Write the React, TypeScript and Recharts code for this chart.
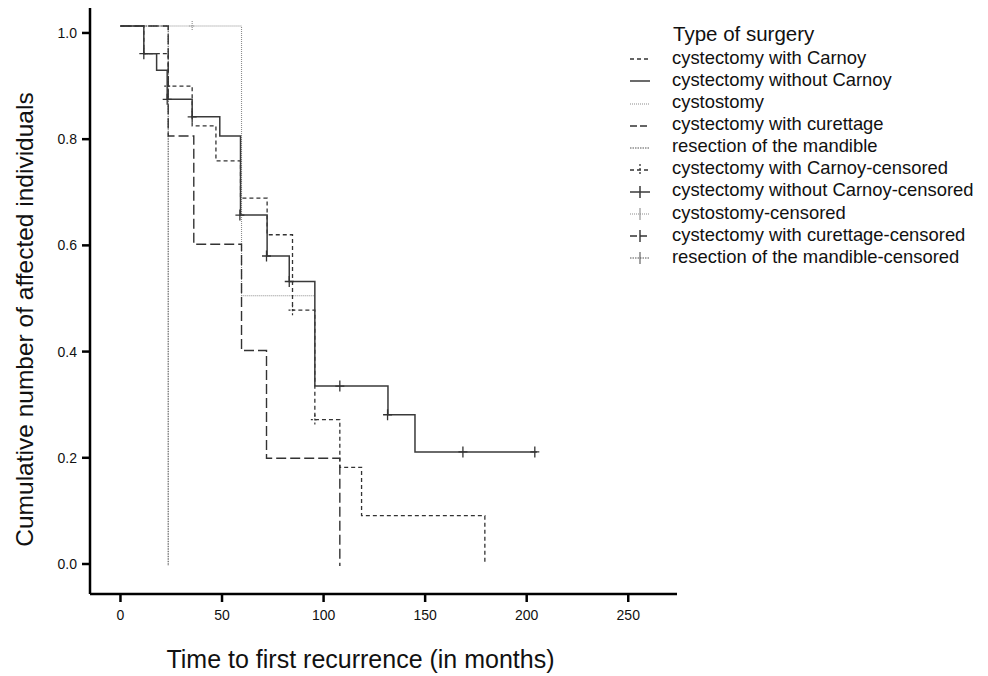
import React from 'react';
import { ComposedChart, Line, Scatter, XAxis, YAxis, Legend } from 'recharts';

// ---------- data ----------
const monthTicks = [0, 50, 100, 150, 200, 250];
const probTicks = [0, 0.2, 0.4, 0.6, 0.8, 1.0];

const legendTitle = 'Type of surgery';
const legendLabels = [
  'cystectomy with Carnoy',
  'cystectomy without Carnoy',
  'cystostomy',
  'cystectomy with curettage',
  'resection of the mandible',
  'cystectomy with Carnoy-censored',
  'cystectomy without Carnoy-censored',
  'cystostomy-censored',
  'cystectomy with curettage-censored',
  'resection of the mandible-censored',
];

// cystectomy with Carnoy
const carnoyMonths = [0, 11.5, 23.5, 35.3, 47.0, 59.1, 72.2, 84.7, 95.7, 108.0, 118.7, 179.4];
const carnoyValues = [1.013, 0.961, 0.9, 0.825, 0.759, 0.689, 0.62, 0.478, 0.272, 0.182, 0.091, 0.0];
const carnoyCensorMonths = [23.5, 84.7, 95.7];
const carnoyCensorValues = [0.9, 0.478, 0.272];

// cystectomy without Carnoy
const withoutMonths = [0, 11.5, 17.8, 23.0, 35.3, 48.9, 59.1, 72.2, 83.1, 95.7, 131.7, 145.0, 205.0];
const withoutValues = [1.013, 0.961, 0.93, 0.875, 0.842, 0.806, 0.657, 0.58, 0.532, 0.335, 0.281, 0.211, 0.211];
const withoutCensorMonths = [11.5, 23.0, 35.3, 58.8, 71.9, 83.1, 108.0, 131.5, 168.6, 204.0];
const withoutCensorValues = [0.961, 0.875, 0.842, 0.657, 0.58, 0.532, 0.335, 0.281, 0.211, 0.211];

// cystostomy
const cystostomyMonths = [0, 59.6, 95.7];
const cystostomyValues = [1.013, 0.505, 0.505];
const cystostomyCensorMonths = [35.3];
const cystostomyCensorValues = [1.013];

// cystectomy with curettage
const curettageMonths = [0, 23.5, 36.1, 59.6, 71.9, 108.0];
const curettageValues = [1.013, 0.806, 0.602, 0.402, 0.199, -0.004];

// resection of the mandible
const resectionMonths = [0, 23.5];
const resectionValues = [1.013, -0.004];

const zip = (ts: number[], vs: number[]) => ts.map((t, i) => ({ t, v: vs[i] }));

const carnoyData = zip(carnoyMonths, carnoyValues);
const carnoyCensor = zip(carnoyCensorMonths, carnoyCensorValues);
const withoutData = zip(withoutMonths, withoutValues);
const withoutCensor = zip(withoutCensorMonths, withoutCensorValues);
const cystostomyData = zip(cystostomyMonths, cystostomyValues);
const cystostomyCensor = zip(cystostomyCensorMonths, cystostomyCensorValues);
const curettageData = zip(curettageMonths, curettageValues);
const resectionData = zip(resectionMonths, resectionValues);

// ---------- styles ----------
const FONT = '"Liberation Sans", Arial, Helvetica, sans-serif';
const S = {
  carnoy: { stroke: '#333', dash: '4 3', width: 1.3 },
  without: { stroke: '#3a3a3a', dash: undefined as string | undefined, width: 1.5 },
  cystostomy: { stroke: '#8c8c8c', dash: '1 1', width: 1.1 },
  curettage: { stroke: '#333', dash: '10 4', width: 1.4 },
  resection: { stroke: '#555', dash: '1.5 1', width: 1.1 },
};

const makeCross = (stroke: string, width: number, hx: number, hy: number, dash?: string) => (props: any) => {
  const { cx, cy } = props;
  if (cx == null || cy == null) return <g />;
  return (
    <path
      d={`M${cx - hx},${cy}H${cx + hx}M${cx},${cy - hy}V${cy + hy}`}
      stroke={stroke}
      strokeWidth={width}
      strokeDasharray={dash}
      fill="none"
    />
  );
};

const legendSymbols = [
  { ...S.carnoy, cross: false },
  { ...S.without, cross: false },
  { ...S.cystostomy, cross: false },
  { ...S.curettage, dash: '7 3', cross: false },
  { ...S.resection, cross: false },
  { ...S.carnoy, cross: true },
  { ...S.without, cross: true },
  { ...S.cystostomy, cross: true },
  { ...S.curettage, dash: '7 3', cross: true },
  { ...S.resection, cross: true },
];

const LegendBox = () => {
  const rowY = (i: number) => 59.3 + 22.1 * i;
  return (
    <div style={{ position: 'absolute', left: 0, top: 0, width: 988, height: 676, fontFamily: FONT, color: '#111' }}>
      <div style={{ position: 'absolute', left: 673, top: 35 - 13, fontSize: 20.5, lineHeight: '24px', whiteSpace: 'nowrap' }}>
        {legendTitle}
      </div>
      {legendLabels.map((label, i) => {
        const sym = legendSymbols[i];
        const cy = rowY(i);
        return (
          <React.Fragment key={label}>
            <svg style={{ position: 'absolute', left: 626, top: cy - 9 }} width={28} height={18}>
              <line x1={4} y1={9} x2={24} y2={9} stroke={sym.stroke} strokeWidth={sym.width} strokeDasharray={sym.dash} />
              {sym.cross && <line x1={14} y1={3} x2={14} y2={15} stroke={sym.stroke} strokeWidth={sym.width} strokeDasharray={i === 5 ? '2 2' : undefined} />}
            </svg>
            <div style={{ position: 'absolute', left: 672, top: cy - 12.5, fontSize: 18.4, lineHeight: '22px', whiteSpace: 'nowrap' }}>
              {label}
            </div>
          </React.Fragment>
        );
      })}
    </div>
  );
};

const tickStyle = { fontSize: 14, fontFamily: FONT, fill: '#111' };

export default function App() {
  return (
    <div style={{ position: 'absolute', left: 0, top: 0, width: 988, height: 676, background: '#fff' }}>
      <ComposedChart
        width={988}
        height={676}
        margin={{ top: 8, right: 311, bottom: 52, left: 30 }}
        style={{ fontFamily: FONT }}
      >
        <XAxis
          type="number"
          dataKey="t"
          domain={[-15, 274]}
          ticks={monthTicks}
          allowDataOverflow
          height={30}
          tickSize={8}
          tickMargin={8}
          axisLine={{ stroke: '#000', strokeWidth: 2.5 }}
          tickLine={{ stroke: '#000', strokeWidth: 2.5 }}
          tick={tickStyle}
        />
        <YAxis
          type="number"
          dataKey="v"
          domain={[-0.0565, 1.047]}
          ticks={probTicks}
          allowDataOverflow
          width={60}
          tickSize={8}
          tickMargin={5}
          tickFormatter={(v: number) => v.toFixed(1)}
          axisLine={{ stroke: '#000', strokeWidth: 2.5 }}
          tickLine={{ stroke: '#000', strokeWidth: 2.5 }}
          tick={tickStyle}
        />
        <Line data={cystostomyData} dataKey="v" type="stepAfter" stroke={S.cystostomy.stroke} strokeWidth={S.cystostomy.width} strokeDasharray={S.cystostomy.dash} dot={false} activeDot={false} isAnimationActive={false} />
        <Line data={resectionData} dataKey="v" type="stepAfter" stroke={S.resection.stroke} strokeWidth={S.resection.width} strokeDasharray={S.resection.dash} dot={false} activeDot={false} isAnimationActive={false} />
        <Line data={curettageData} dataKey="v" type="stepAfter" stroke={S.curettage.stroke} strokeWidth={S.curettage.width} strokeDasharray={S.curettage.dash} dot={false} activeDot={false} isAnimationActive={false} />
        <Line data={carnoyData} dataKey="v" type="stepAfter" stroke={S.carnoy.stroke} strokeWidth={S.carnoy.width} strokeDasharray={S.carnoy.dash} dot={false} activeDot={false} isAnimationActive={false} />
        <Line data={withoutData} dataKey="v" type="stepAfter" stroke={S.without.stroke} strokeWidth={S.without.width} dot={false} activeDot={false} isAnimationActive={false} />
        <Scatter data={carnoyCensor} dataKey="v" isAnimationActive={false} shape={makeCross('#333', 1.2, 4, 5, '2 2')} />
        <Scatter data={withoutCensor} dataKey="v" isAnimationActive={false} shape={makeCross('#333', 1.3, 4.5, 5.5)} />
        <Scatter data={cystostomyCensor} dataKey="v" isAnimationActive={false} shape={makeCross('#8c8c8c', 1.1, 3, 5, '1 1')} />
        <Legend
          layout="vertical"
          align="center"
          verticalAlign="middle"
          content={() => <LegendBox />}
          wrapperStyle={{ position: 'absolute', left: 0, top: 0, width: 988, height: 676, pointerEvents: 'none' }}
        />
      </ComposedChart>
      <div
        style={{
          position: 'absolute',
          left: 360.5 - 300,
          top: 646.8,
          width: 600,
          textAlign: 'center',
          fontFamily: FONT,
          fontSize: 25,
          lineHeight: '25px',
          color: '#111',
          whiteSpace: 'nowrap',
        }}
      >
        Time to first recurrence (in months)
      </div>
      <div
        style={{
          position: 'absolute',
          left: 24.3 - 300,
          top: 319 - 12.5,
          width: 600,
          height: 25,
          textAlign: 'center',
          fontFamily: FONT,
          fontSize: 24.5,
          lineHeight: '25px',
          color: '#111',
          whiteSpace: 'nowrap',
          transform: 'rotate(-90deg)',
          transformOrigin: '50% 50%',
        }}
      >
        Cumulative number of affected individuals
      </div>
    </div>
  );
}
